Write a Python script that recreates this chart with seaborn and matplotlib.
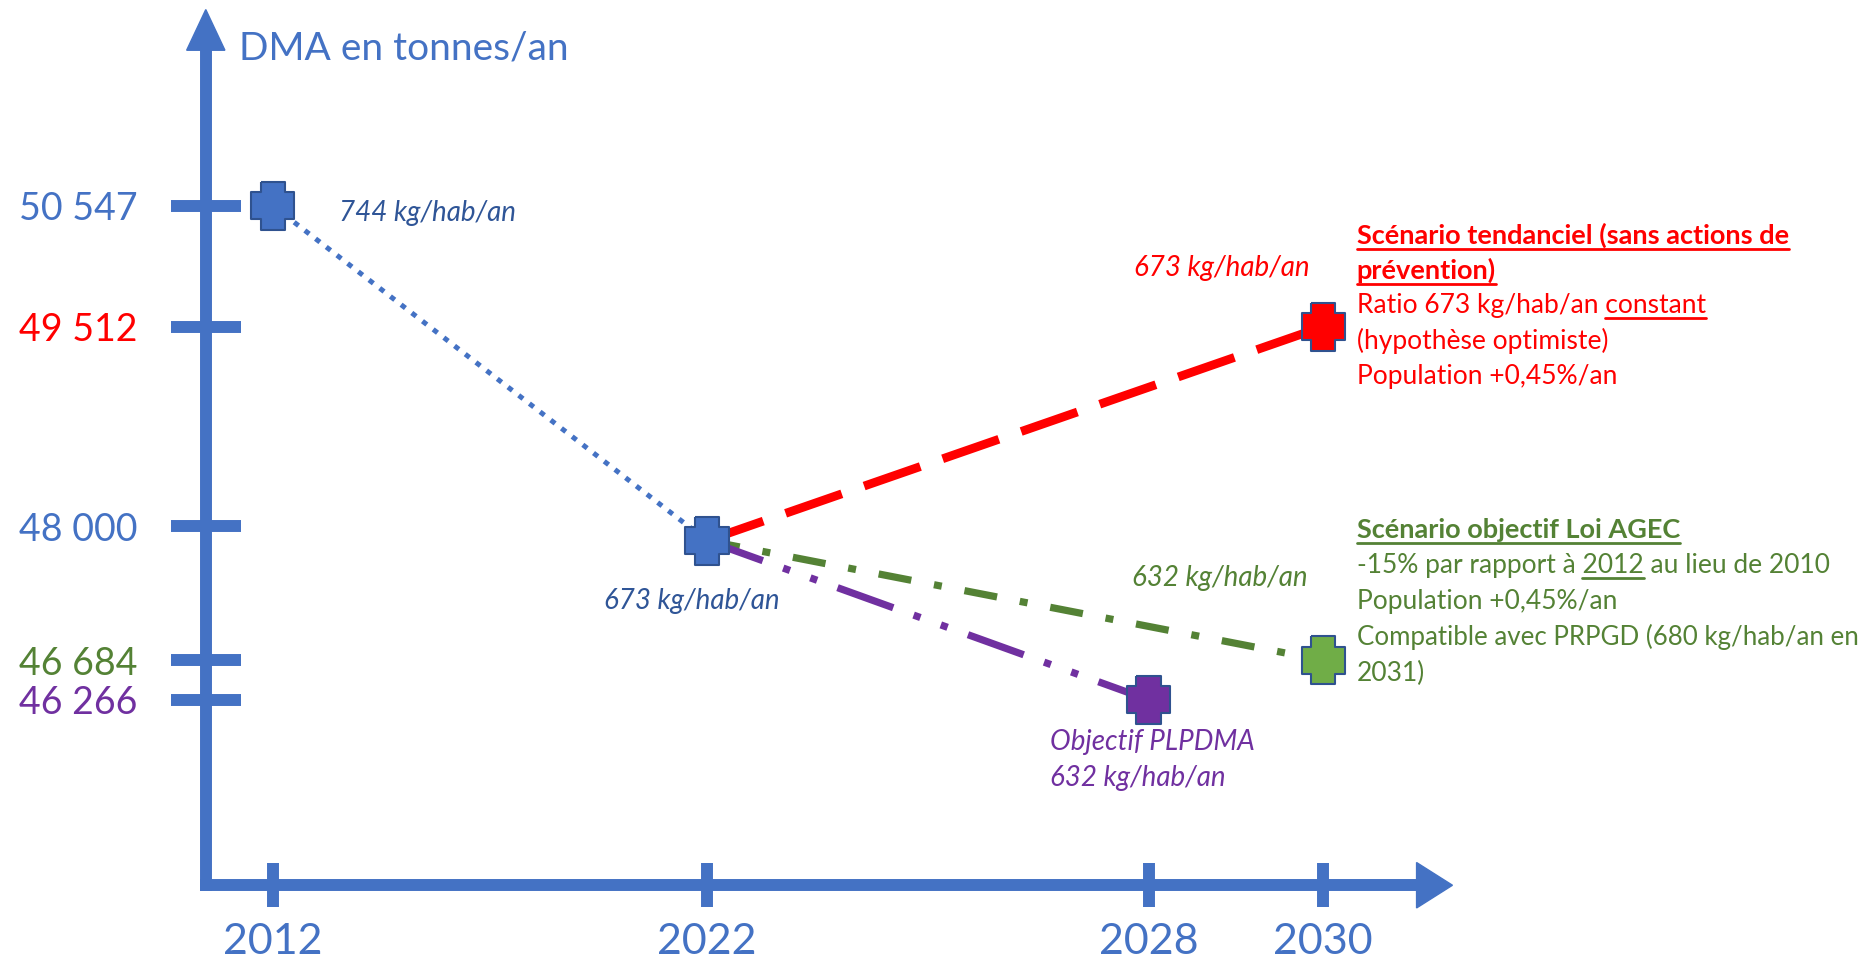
import numpy as np
import pandas as pd
import seaborn as sns
import matplotlib.pyplot as plt
from matplotlib.patches import Polygon
from matplotlib.lines import Line2D

# --- Données (tonnes de DMA par an) ---
annees_ticks = [2012, 2022, 2028, 2030]
dma_ticks = [50547, 49512, 48000, 46684, 46266]
dma_labels = ["50 547", "49 512", "48 000", "46 684", "46 266"]

historique_annees = [2012, 2022]
historique_dma = [50547, 47860]
tendanciel_annees = [2022, 2030]
tendanciel_dma = [47860, 49512]
agec_annees = [2022, 2030]
agec_dma = [47860, 46684]
plpdma_annees = [2022, 2028]
plpdma_dma = [47860, 46266]

points_serie = ["historique", "historique", "tendanciel", "agec", "plpdma"]
points_annee = [2012, 2022, 2030, 2030, 2028]
points_dma = [50547, 47860, 49512, 46684, 46266]

# --- Couleurs ---
BLEU = "#4472C4"
BLEU_FONCE = "#2F5597"
ROUGE = "#FF0000"
VERT = "#70AD47"
VERT_TXT = "#548235"
VIOLET = "#7030A0"
BORD = "#2F528F"

dma_label_colors = [BLEU, ROUGE, BLEU, VERT_TXT, VIOLET]

# --- Le schéma n'est pas linéaire : échelles linéaires par morceaux ---
# (repères en pixels d'un canevas 1568 x 805)
W, H = 1568, 805
x_knots_pix = [228, 591, 960, 1106]
y_knots_val = [46266, 46684, 48000, 49512, 50547]
y_knots_pix = [H - 585, H - 552, H - 440, H - 273, H - 172]


def _interp(v, xs, ys):
    v = np.asarray(v, dtype=float)
    xs = np.asarray(xs, dtype=float)
    ys = np.asarray(ys, dtype=float)
    p0 = (ys[1] - ys[0]) / (xs[1] - xs[0])
    p1 = (ys[-1] - ys[-2]) / (xs[-1] - xs[-2])
    return np.where(v < xs[0], ys[0] + (v - xs[0]) * p0,
                    np.where(v > xs[-1], ys[-1] + (v - xs[-1]) * p1,
                             np.interp(v, xs, ys)))


def echelle(vals, pix):
    return (lambda v: _interp(v, vals, pix), lambda p: _interp(p, pix, vals))


fx_aller, fx_retour = echelle(annees_ticks, x_knots_pix)
fy_aller, fy_retour = echelle(y_knots_val, y_knots_pix)

sns.set_theme(style="white")
plt.rcParams['font.family'] = ['Lato', 'DejaVu Sans']

fig = plt.figure(figsize=(18.76, 9.63), dpi=100)
fig.patch.set_facecolor("white")

x_left, x_right = 172, 1190
y_bottom, y_top = 65, 765
ax = fig.add_axes([x_left / W, y_bottom / H, (x_right - x_left) / W, (y_top - y_bottom) / H])
ax.set_xscale('function', functions=(fx_aller, fx_retour))
ax.set_yscale('function', functions=(fy_aller, fy_retour))

# --- Lignes ---
segments = [
    (historique_annees, historique_dma, BLEU, 3.6, (0, (1.1, 1.6))),
    (tendanciel_annees, tendanciel_dma, ROUGE, 6.3, (0, (6.8, 2.7))),
    (agec_annees, agec_dma, VERT_TXT, 5.2, (0, (4.6, 3.2, 1.1, 3.2))),
    (plpdma_annees, plpdma_dma, VIOLET, 5.2, (0, (8.2, 3.0, 1.0, 3.0, 1.0, 3.0))),
]
for xs, ys, c, lw, ls in segments:
    sns.lineplot(x=xs, y=ys, ax=ax, color=c, linewidth=lw, linestyle=ls,
                 legend=False, clip_on=False, zorder=3)

# --- Marqueurs en croix ---
w, e = 0.28, 0.5
croix = [(-w * 0.9, e), (w * 0.9, e), (w * 0.9, w), (e * 0.9, w), (e * 0.9, -w),
         (w * 0.9, -w), (w * 0.9, -e), (-w * 0.9, -e), (-w * 0.9, -w), (-e * 0.9, -w),
         (-e * 0.9, w), (-w * 0.9, w), (-w * 0.9, e)]
points = pd.DataFrame({"serie": points_serie, "annee": points_annee, "dma": points_dma})
palette = {"historique": BLEU, "tendanciel": ROUGE, "agec": VERT, "plpdma": VIOLET}
sns.scatterplot(data=points, x="annee", y="dma", hue="serie", palette=palette,
                marker=croix, s=1200, edgecolor=BORD, linewidth=1.5,
                legend=False, ax=ax, zorder=5, clip_on=False)

ax.set_xlim(fx_retour(x_left), fx_retour(x_right))
ax.set_ylim(fy_retour(y_bottom), fy_retour(y_top))
ax.set_xticks(annees_ticks)
ax.set_xticklabels([str(a) for a in annees_ticks])
ax.set_yticks(dma_ticks)
ax.set_yticklabels(dma_labels)
ax.minorticks_off()
ax.set_xlabel("")
ax.set_ylabel("")

for lab, c in zip(ax.get_yticklabels(), dma_label_colors):
    lab.set_color(c)

ax.tick_params(axis='y', left=True, direction='inout', length=50, width=8.6,
               color=BLEU, pad=24, labelsize=27)
ax.tick_params(axis='x', bottom=True, direction='inout', length=31, width=8.6,
               color=BLEU, pad=12, labelsize=31, labelcolor=BLEU)

for s in ["top", "right"]:
    ax.spines[s].set_visible(False)
for s in ["left", "bottom"]:
    ax.spines[s].set_color(BLEU)
    ax.spines[s].set_linewidth(8.6)
ax.patch.set_alpha(0)

# flèches des axes
def fp(x, y):
    return (x / W, 1 - y / H)

fig.patches.append(Polygon([fp(156, 42), fp(188, 42), fp(172, 8)], closed=True,
                           transform=fig.transFigure, color=BLEU))
fig.patches.append(Polygon([fp(1184, 721), fp(1184, 759), fp(1214, 740)], closed=True,
                           transform=fig.transFigure, color=BLEU))


# --- Textes ---
def texte(x, y, s, color, size=19, style="normal", weight="normal"):
    fx, fy = fp(x, y)
    return fig.text(fx, fy, s, color=color, fontsize=size, fontstyle=style,
                    fontweight=weight, ha="left", va="baseline")


texte(200, 50, "DMA en tonnes/an", BLEU, size=28)
texte(283, 185, "744 kg/hab/an", BLEU_FONCE, size=20, style="italic")
texte(505, 509, "673 kg/hab/an", BLEU_FONCE, size=20, style="italic")
texte(948, 231, "673 kg/hab/an", ROUGE, size=20, style="italic")
texte(946, 490, "632 kg/hab/an", VERT_TXT, size=20, style="italic")
texte(878, 627, "Objectif PLPDMA", VIOLET, size=20, style="italic")
texte(878, 657, "632 kg/hab/an", VIOLET, size=20, style="italic")

soulignes = []
t = texte(1134, 204, "Scénario tendanciel (sans actions de", ROUGE, size=19.5, weight="bold")
soulignes.append((t, None))
t = texte(1134, 233, "prévention)", ROUGE, size=19.5, weight="bold")
soulignes.append((t, None))
t = texte(1134, 262, "Ratio 673 kg/hab/an constant", ROUGE)
soulignes.append((t, "constant"))
texte(1134, 292, "(hypothèse optimiste)", ROUGE)
texte(1134, 321, "Population +0,45%/an", ROUGE)

t = texte(1134, 450, "Scénario objectif Loi AGEC", VERT_TXT, size=19.5, weight="bold")
soulignes.append((t, None))
t = texte(1134, 479, "-15% par rapport à 2012 au lieu de 2010", VERT_TXT)
soulignes.append((t, "2012"))
texte(1134, 509, "Population +0,45%/an", VERT_TXT)
texte(1134, 539, "Compatible avec PRPGD (680 kg/hab/an en", VERT_TXT, size=18.6)
texte(1134, 569, "2031)", VERT_TXT)

fig.canvas.draw()
renderer = fig.canvas.get_renderer()


def largeur(s, props):
    tmp = fig.text(0, 0, s, fontproperties=props)
    wd = tmp.get_window_extent(renderer).width
    tmp.remove()
    return wd


inv = fig.transFigure.inverted()
for t, mot in soulignes:
    bb = t.get_window_extent(renderer)
    base = fig.transFigure.transform(t.get_position())[1]
    if mot is None:
        x0, x1 = bb.x0, bb.x1
    else:
        s = t.get_text()
        i = s.index(mot) + len(mot)
        x1 = bb.x0 + largeur(s[:i], t.get_fontproperties())
        x0 = x1 - largeur(mot, t.get_fontproperties())
    (a0, b0), (a1, b1) = inv.transform([(x0, base - 5), (x1, base - 5)])
    fig.add_artist(Line2D([a0, a1], [b0, b1], transform=fig.transFigure,
                          color=t.get_color(), linewidth=2))

fig.savefig("out.png", dpi=100)
